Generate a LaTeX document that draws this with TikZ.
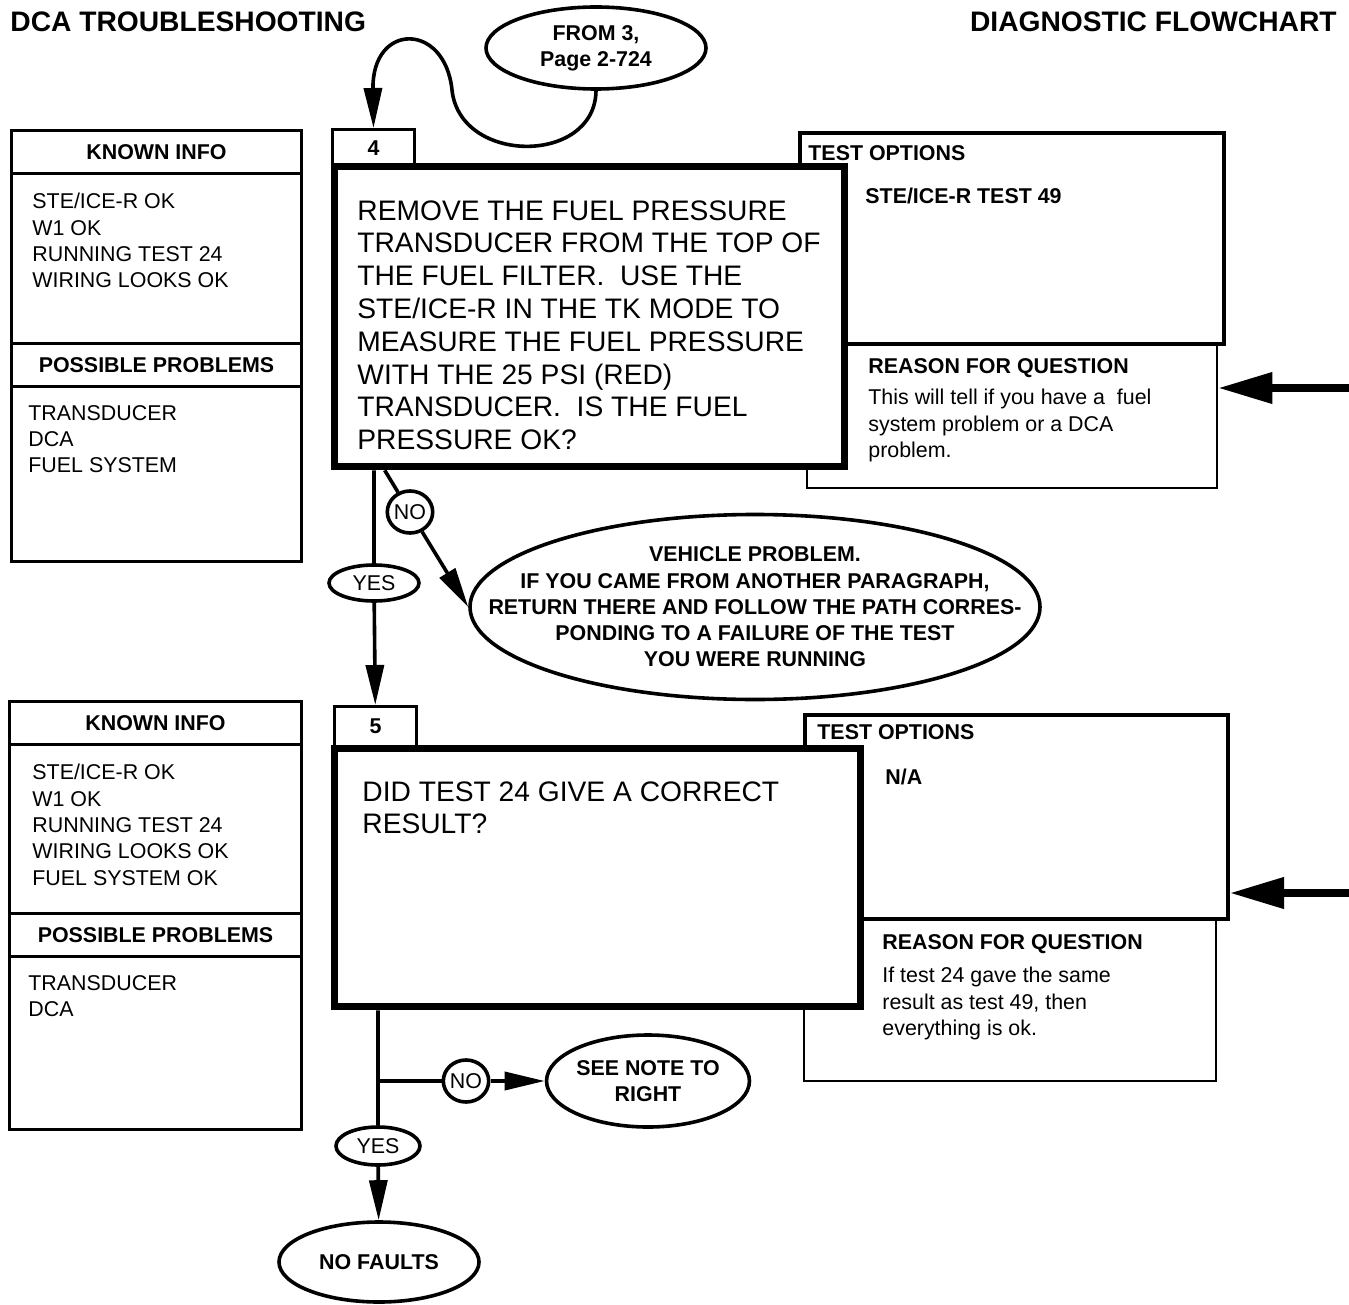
\documentclass[tikz,border=0pt]{standalone}
\usepackage{fontspec}
\setmainfont{Liberation Sans}
\usetikzlibrary{arrows.meta,positioning,shapes.geometric,calc}

\begin{document}
\begin{tikzpicture}[x=0.5pt,y=-0.5pt,
   sm/.style={font=\fontsize{10.7}{13.15}\selectfont},
   smb/.style={font=\fontsize{10.7}{13.15}\selectfont\bfseries},
   big/.style={font=\fontsize{14.1}{16.4}\selectfont},
   ttlfont/.style={font=\fontsize{14.1}{17}\selectfont\bfseries},
   box/.style={draw,line width=1.5pt,fill=white,inner sep=0pt,anchor=north west},
   hdr/.style={box,smb,minimum width=145pt,minimum height=21.5pt},
   optbox/.style={box,line width=2pt},
   whybox/.style={box,line width=1.2pt},
   qbox/.style={draw,line width=3.8pt,fill=white,inner sep=0pt},
   stepno/.style={box,smb,minimum width=41pt},
   txt/.style={sm,anchor=north west,inner sep=0pt,align=left},
   oval/.style={ellipse,draw,line width=1.8pt,fill=white,inner sep=0pt,smb,align=center},
   line/.style={line width=1.8pt},
   arr/.style={line,-{Triangle[length=20pt,width=9pt]}},
   bigarr/.style={line width=3.6pt,-{Triangle[length=27pt,width=15pt]}}]
  \useasboundingbox (0,0) rectangle (1349,1305);

  % page headings
  \node[ttlfont,anchor=north west,inner sep=0pt] (ttl) at (10,11) {DCA TROUBLESHOOTING};
  \node[ttlfont,anchor=north east,inner sep=0pt] (ttr) at (1337,11) {DIAGNOSTIC FLOWCHART};

  % ---- step 4
  \node[oval,minimum width=110pt,minimum height=41pt] (from) at (596,48) {FROM 3,\\Page 2-724};

  \node[hdr] (ki4) at (10,129) {KNOWN INFO};
  \node[box,minimum width=145pt,minimum height=85pt] (kb4) at (10,172) {};
  \node[hdr] (pp4) at (10,342) {POSSIBLE PROBLEMS};
  \node[box,minimum width=145pt,minimum height=87.5pt] (pb4) at (10,385) {};
  \node[txt] (kt4) at (32,193) {STE/ICE-R OK\\W1 OK\\RUNNING TEST 24\\WIRING LOOKS OK};
  \node[txt] (pt4) at (28,405) {TRANSDUCER\\DCA\\FUEL SYSTEM};

  \node[whybox,minimum width=205pt,minimum height=72.5pt] (rq4) at (806,342) {};
  \node[optbox,minimum width=212pt,minimum height=105.5pt] (to4) at (798,131) {};
  \node[txt,smb] (toh4) at (808,145) {TEST OPTIONS};
  \node[txt,smb] (tot4) at (865,188) {STE/ICE-R TEST 49};
  \node[txt,smb] (rqh4) at (868,358) {REASON FOR QUESTION};
  \node[txt] (rqt4) at (868,389) {This will tell if you have a\ \ fuel\\system problem or a DCA\\problem.};

  \node[stepno,minimum height=18.5pt] (s4) at (331,128) {4};
  \node[qbox,minimum width=255pt,minimum height=150pt] (m4) at (589.5,316.5) {};
  \node[txt,big] (mt4) at (357,200) {REMOVE THE FUEL PRESSURE\\
    TRANSDUCER FROM THE TOP OF\\THE FUEL FILTER.\ \ USE THE\\
    STE/ICE-R IN THE TK MODE TO\\MEASURE THE FUEL PRESSURE\\
    WITH THE 25 PSI (RED)\\TRANSDUCER.\ \ IS THE FUEL\\PRESSURE OK?};

  \draw[arr] (from.south) .. controls (595,165) and (460,165) .. (452,90)
       .. controls (445,22) and (372,22) .. (s4.north);
  \coordinate (in4) at (1349,388);
  \draw[bigarr] (in4) -- (in4 -| rq4.east);

  \node[oval,sm,minimum width=45pt,minimum height=18pt] (yes4) at (374,583) {YES};
  \node[oval,sm,minimum width=21pt,minimum height=21pt] (no4) at (410,512) {NO};
  \node[oval,minimum width=285pt,minimum height=92.5pt] (veh) at (755,607) {};
  \node[smb,align=center,inner sep=0pt] (veht) at (veh.center) {VEHICLE PROBLEM.\\
    IF YOU CAME FROM ANOTHER PARAGRAPH,\\RETURN THERE AND FOLLOW THE PATH CORRES-\\
    PONDING TO A FAILURE OF THE TEST\\YOU WERE RUNNING};
  \draw[arr] ($(m4.south west)+(54,0)$) -- (no4) -- (veh.west);

  % ---- step 5
  \node[hdr,minimum width=146pt] (ki5) at (8,700) {KNOWN INFO};
  \node[box,minimum width=146pt,minimum height=84.5pt] (kb5) at (8,743) {};
  \node[hdr,minimum width=146pt] (pp5) at (8,912) {POSSIBLE PROBLEMS};
  \node[box,minimum width=146pt,minimum height=86.5pt] (pb5) at (8,955) {};
  \node[txt] (kt5) at (32,764) {STE/ICE-R OK\\W1 OK\\RUNNING TEST 24\\WIRING LOOKS OK\\FUEL SYSTEM OK};
  \node[txt] (pt5) at (28,975) {TRANSDUCER\\DCA};

  \node[whybox,minimum width=206pt,minimum height=81.5pt] (rq5) at (803,917) {};
  \node[optbox,minimum width=211.5pt,minimum height=102pt] (to5) at (803,713) {};
  \node[txt,smb] (toh5) at (817,724) {TEST OPTIONS};
  \node[txt,smb] (tot5) at (885,769) {N/A};
  \node[txt,smb] (rqh5) at (882,934) {REASON FOR QUESTION};
  \node[txt] (rqt5) at (882,967) {If test 24 gave the same\\result as test 49, then\\everything is ok.};

  \node[stepno,minimum height=20pt] (s5) at (333,705) {5};
  \node[qbox,minimum width=263pt,minimum height=129pt] (m5) at (597.5,877.5) {};
  \node[txt,big] (mt5) at (362,781) {DID TEST 24 GIVE A CORRECT\\RESULT?};

  \draw[arr] (yes4 |- m4.south) -- (yes4) -- (s5);
  \coordinate (in5) at (1349,893);
  \draw[bigarr] (in5) -- (in5 -| to5.east);

  \node[oval,sm,minimum width=42pt,minimum height=19pt] (yes5) at (378,1146) {YES};
  \node[oval,sm,minimum width=21.5pt,minimum height=21pt] (no5) at (466,1081) {NO};
  \node[oval,minimum width=101pt,minimum height=46pt] (see) at (648,1081) {SEE NOTE TO\\RIGHT};
  \node[oval,minimum width=100pt,minimum height=40pt] (nf) at (379,1262) {NO FAULTS};

  \draw[arr] (yes5 |- m5.south) -- (yes5) -- (nf);
  \draw[arr] (yes5 |- no5) -- (no5) -- (see);
\end{tikzpicture}
\end{document}
